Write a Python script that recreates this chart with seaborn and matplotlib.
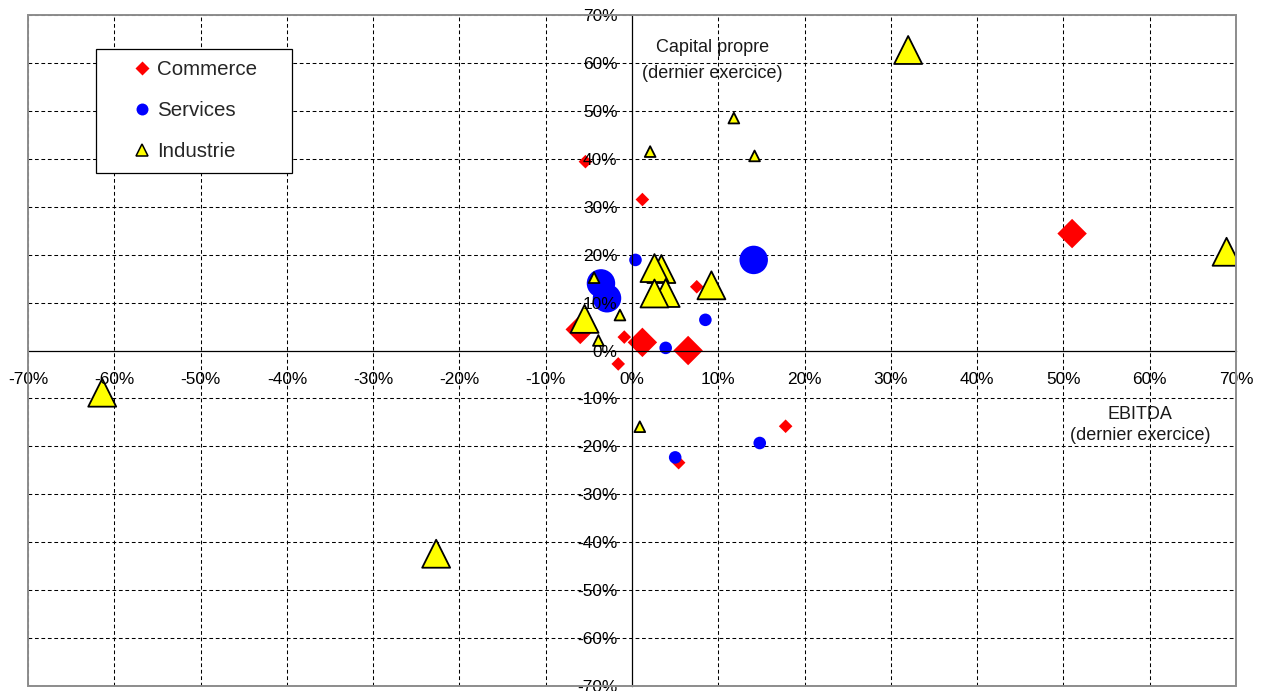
import matplotlib
matplotlib.use("Agg")
import matplotlib.pyplot as plt
from matplotlib.lines import Line2D
from matplotlib.patches import Rectangle
from matplotlib.ticker import FixedLocator, FuncFormatter
import pandas as pd
import seaborn as sns

# EBITDA (%) / capital propre (%) par secteur, avec la taille du point
commerce_ebitda = [-5.4, 1.2, 7.5, -6.0, -0.9, 1.2, 6.5, -1.6, 51.0, 17.8, 5.4]
commerce_capital = [39.4, 31.5, 13.3, 4.4, 2.8, 1.7, 0.0, -2.8, 24.4, -15.8, -23.4]
commerce_taille = ["petit", "petit", "petit", "grand", "petit", "grand",
                   "grand", "petit", "grand", "petit", "petit"]

services_ebitda = [0.4, -3.6, -2.9, 8.5, 3.9, 14.1, 5.0, 14.8]
services_capital = [18.9, 14.0, 10.9, 6.4, 0.55, 18.9, -22.3, -19.3]
services_taille = ["petit", "grand", "grand", "petit", "petit", "grand",
                   "petit", "petit"]

industrie_ebitda = [2.1, 14.2, 11.8, 32.0, 68.9, -61.4, -22.7, 0.9, -4.4,
                    -1.4, -5.5, -3.9, 3.4, 2.6, 3.9, 2.6, 9.2]
industrie_capital = [41.5, 40.6, 48.5, 62.7, 20.6, -8.8, -42.4, -15.9, 15.2,
                     7.4, 6.6, 2.1, 17.0, 17.2, 12.0, 11.9, 13.6]
industrie_taille = ["petit", "petit", "petit", "grand", "grand", "grand",
                    "grand", "petit", "petit", "petit", "grand", "petit",
                    "grand", "grand", "grand", "grand", "grand"]

secteurs = ["Commerce", "Services", "Industrie"]
tick_values = list(range(-70, 71, 10))

sns.set_style("white")
plt.rcParams["font.family"] = ["Liberation Sans", "DejaVu Sans"]

fig = plt.figure(figsize=(12.68, 6.91), dpi=100)
ax = fig.add_axes([0.0221, 0.0072, 0.9527, 0.9711])
ax.set_xlim(-70, 70)
ax.set_ylim(-70, 70)

# dashed grid behind the markers
for v in tick_values:
    if v != 0:
        ax.axhline(v, color="black", lw=0.75, dashes=(3.6, 2.6), zorder=0.5)
        ax.axvline(v, color="black", lw=0.75, dashes=(3.6, 2.6), zorder=0.5)

commerce = pd.DataFrame({"ebitda": commerce_ebitda, "capital": commerce_capital,
                         "taille": commerce_taille})
services = pd.DataFrame({"ebitda": services_ebitda, "capital": services_capital,
                         "taille": services_taille})
industrie = pd.DataFrame({"ebitda": industrie_ebitda, "capital": industrie_capital,
                          "taille": industrie_taille})

sns.scatterplot(data=commerce, x="ebitda", y="capital", size="taille",
                sizes={"petit": 48, "grand": 225}, marker="D", color="#FF0000",
                edgecolor="none", linewidth=0, legend=False, ax=ax)
sns.scatterplot(data=services, x="ebitda", y="capital", size="taille",
                sizes={"petit": 82, "grand": 420}, marker="o", color="#0000FF",
                edgecolor="none", linewidth=0, legend=False, ax=ax)
sns.scatterplot(data=industrie, x="ebitda", y="capital", size="taille",
                sizes={"petit": 60, "grand": 405}, marker="^", color="#FFFF00",
                edgecolor="black", linewidth=1.3, legend=False, ax=ax)

# axes crossing at the origin
for side in ("top", "right"):
    ax.spines[side].set_visible(False)
for side in ("left", "bottom"):
    ax.spines[side].set_position("zero")
    ax.spines[side].set_color("black")
    ax.spines[side].set_linewidth(0.9)

# outer grey frame of the plot area
ax.add_patch(Rectangle((0, 0), 1, 1, transform=ax.transAxes, fill=False,
                       edgecolor="#8C8C8C", lw=1.4, clip_on=False, zorder=3))

ax.xaxis.set_major_locator(FixedLocator(tick_values))
ax.yaxis.set_major_locator(FixedLocator(tick_values))
pct = FuncFormatter(lambda v, pos: f"{v:.0f}%")
ax.xaxis.set_major_formatter(pct)
ax.yaxis.set_major_formatter(pct)
ax.tick_params(axis="both", direction="inout", length=5, width=0.9,
               color="black", labelsize=12.4, labelcolor="black")
ax.tick_params(axis="x", pad=13)
ax.tick_params(axis="y", pad=8)
ax.set_axisbelow(False)
ax.set_xlabel("")
ax.set_ylabel("")

ax.text(9.3, 60.5, "Capital propre\n(dernier exercice)", ha="center",
        va="center", fontsize=13, linespacing=1.65, color="#1a1a1a")
ax.text(58.9, -15.5, "EBITDA\n(dernier exercice)", ha="center",
        va="center", fontsize=13, linespacing=1.35, color="#1a1a1a")

handles = [
    Line2D([], [], ls="none", marker="D", ms=7.0, mfc="#FF0000", mec="none"),
    Line2D([], [], ls="none", marker="o", ms=8.6, mfc="#0000FF", mec="none"),
    Line2D([], [], ls="none", marker="^", ms=9.0, mfc="#FFFF00", mec="black",
           mew=1.1),
]
ax_w = 1208.0
ax_h = 671.0
leg = ax.legend(handles, secteurs, loc="upper left",
                bbox_to_anchor=((96 - 28) / ax_w, 1 - (49 - 15) / ax_h,
                                196 / ax_w, 0.0),
                mode="expand", borderaxespad=0, fontsize=14.8,
                frameon=True, fancybox=False, shadow=False, framealpha=1,
                edgecolor="black", borderpad=0.55, labelspacing=1.07,
                handlelength=3.38, handletextpad=-0.96, numpoints=1)
leg.get_frame().set_linewidth(0.9)
leg.set_zorder(5)

fig.savefig("out.png", dpi=100, facecolor="white")
